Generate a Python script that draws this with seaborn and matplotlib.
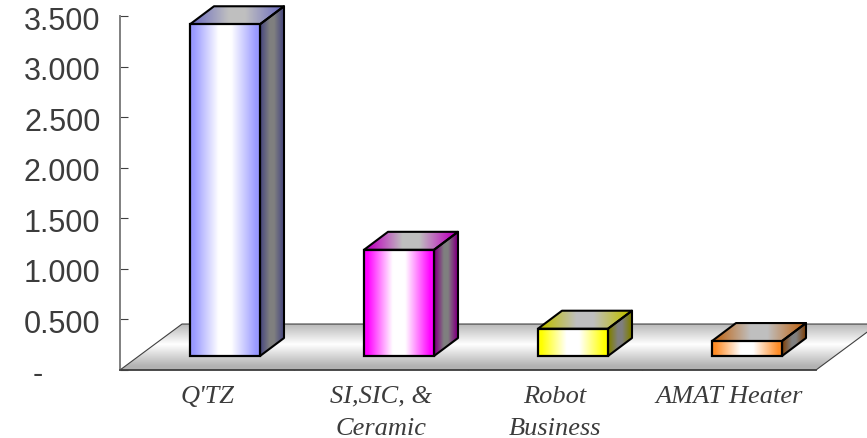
import numpy as np
import pandas as pd
import seaborn as sns
import matplotlib.pyplot as plt
from matplotlib.colors import to_rgb
from matplotlib.patches import Polygon
from matplotlib.transforms import Affine2D

# values
categories = ["Q'TZ", "SI,SIC, &\nCeramic", "Robot\nBusiness", "AMAT Heater"]
values = [3.28, 1.05, 0.27, 0.148]
colors = ["#9999FF", "#FF00FF", "#FFFF00", "#FF8C26"]
y_ticks = [0, 0.5, 1, 1.5, 2, 2.5, 3, 3.5]
y_labels = ["-      \u2009", "0.500", "1.000", "1.500", "2.000", "2.500", "3.000", "3.500"]

# depth of the fake 3d box, in data units
BAR_DX, BAR_DY = 24 / 174, 18 / 101.2
BASE_DX, BASE_DY = 18 / 174, 14 / 101.2
FLOOR_DX, FLOOR_DY = 62 / 174, 46 / 101.2
TEXT = "#3c3c3c"


def bar_gradient(color, shade):
    # colour near both edges, white plateau in the middle, all darkened by shade
    base = np.array(to_rgb(color))
    t = np.clip((np.abs(np.linspace(-1, 1, 256)) - 0.18) / 0.72, 0, 1)[None, :, None]
    return (base * t + (1 - t)) * shade


def fill_poly(ax, corners, grad, zorder):
    # gradient image cut to the shape, black outline on top
    xs, ys = zip(*corners)
    poly = Polygon(corners, closed=True, fc="none", ec="black", lw=1.5,
                   zorder=zorder + 0.1, clip_on=False, joinstyle="round")
    ax.add_patch(poly)
    im = ax.imshow(grad, extent=(min(xs), max(xs), min(ys), max(ys)), aspect="auto",
                   interpolation="bilinear", zorder=zorder)
    im.set_clip_box(ax.figure.bbox)
    im.set_clip_path(poly)


sns.set_style("white")
plt.rcParams['font.family'] = ['Liberation Sans', 'DejaVu Sans']

fig = plt.figure(figsize=(8.67, 4.39), dpi=100)
ax = fig.add_axes([120 / 867, 68 / 439, 696 / 867, 354 / 439])

df = pd.DataFrame({"cat": categories, "val": values})
sns.barplot(data=df, x="cat", y="val", hue="cat", palette=colors, width=70 / 174,
            legend=False, ax=ax, edgecolor="black", linewidth=1.6)

ax.set_xlim(-0.5, 3.5)
ax.set_ylim(0, 3.5)
ax.set_autoscale_on(False)

# floor
floor_t = np.abs(np.linspace(-1, 1, 256) + 0.12)
floor_grad = (1 - 0.3 * np.clip(floor_t / 0.95, 0, 1))[:, None, None] * np.ones((256, 1, 3))
floor = [(-0.5, 0), (3.5, 0), (3.5 + FLOOR_DX, FLOOR_DY), (-0.5 + FLOOR_DX, FLOOR_DY)]
fill_poly(ax, floor, floor_grad, 1)
ax.patches[-1].set_edgecolor("#404040")
ax.patches[-1].set_linewidth(0.8)

# boxes, faces built from the bars seaborn drew
for patch, color in zip(list(ax.patches)[:len(values)], colors):
    x0 = patch.get_x() + BASE_DX
    w = patch.get_width()
    h = patch.get_height()
    patch.set_x(x0)
    patch.set_y(BASE_DY)
    patch.set_facecolor("none")
    patch.set_zorder(4)
    patch.set_clip_on(False)
    y0, y1, x1 = BASE_DY, BASE_DY + h, x0 + w
    fill_poly(ax, [(x0, y0), (x1, y0), (x1, y1), (x0, y1)], bar_gradient(color, 1), 3)
    ax.patches[-1].set_edgecolor("none")
    side = [(x1, y0), (x1 + BAR_DX, y0 + BAR_DY), (x1 + BAR_DX, y1 + BAR_DY), (x1, y1)]
    fill_poly(ax, side, bar_gradient(color, 0.5), 2)
    top = [(x0, y1), (x1, y1), (x1 + BAR_DX, y1 + BAR_DY), (x0 + BAR_DX, y1 + BAR_DY)]
    fill_poly(ax, top, bar_gradient(color, 0.75), 2)

ax.set_xlim(-0.5, 3.5)
ax.set_ylim(0, 3.5)
ax.set_xlabel("")
ax.set_ylabel("")
ax.patch.set_alpha(0)

sns.despine(ax=ax, top=True, right=True)
ax.spines["left"].set_color("#808080")
ax.spines["left"].set_linewidth(1.4)
ax.spines["bottom"].set_color("#404040")
ax.spines["bottom"].set_linewidth(1.2)
ax.spines["bottom"].set_zorder(5)

ax.set_yticks(y_ticks, y_labels)
ax.tick_params(axis="y", direction="in", length=5.5, width=0.8, color="#404040", pad=14,
               labelsize=22, labelcolor=TEXT, left=True)
# labels sit a little under their ticks in the original
for label in ax.get_yticklabels():
    label.set_transform(label.get_transform() + Affine2D().translate(0, -1))

ax.set_xticks(range(len(categories)), categories)
ax.set_xticks(np.arange(-0.5, 4, 1), minor=True)
ax.tick_params(axis="x", which="major", length=0, pad=10.5, labelcolor=TEXT)
ax.tick_params(axis="x", which="minor", direction="in", length=4.5, width=0.8, color="#808080", bottom=True)
for label in ax.get_xticklabels():
    label.set_family("Liberation Serif")
    label.set_style("italic")
    label.set_fontsize(19)
    label.set_linespacing(1.62)

fig.savefig("out.png", dpi=100)
